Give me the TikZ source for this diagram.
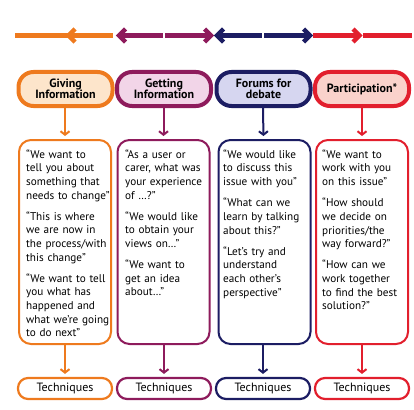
\documentclass[tikz,border=0pt]{standalone}
\usepackage{fontspec}
\setmainfont{PT Sans}
\usetikzlibrary{arrows.meta}
\definecolor{cOr}{HTML}{EE7A1E}
\definecolor{cMa}{HTML}{8E1B5C}
\definecolor{cNa}{HTML}{1C1D63}
\definecolor{cRe}{HTML}{E21F2D}
\definecolor{fOr}{HTML}{FDE5CB}
\definecolor{fMa}{HTML}{F2D5E8}
\definecolor{fNa}{HTML}{D6D6F0}
\definecolor{fRe}{HTML}{FAD2CB}
\begin{document}
\begin{tikzpicture}[x=1pt,y=-1pt,
  hdr/.style={draw, line width=4pt, rounded corners=15pt, minimum width=94pt, minimum height=34pt, inner sep=0pt, align=center, font=\bfseries\fontsize{12}{11.5}\selectfont},
  txtbox/.style={draw, line width=2pt, rounded corners=12pt, minimum width=92pt, minimum height=204pt, inner sep=0pt},
  tech/.style={draw, line width=2.2pt, rounded corners=10pt, minimum width=94pt, minimum height=21pt, inner sep=0pt, font=\fontsize{12}{13}\selectfont},
  quote/.style={anchor=north west, inner sep=0pt, text width=110pt, align=left, font=\fontsize{11.2}{13.6}\selectfont},
  arr/.style={line width=2pt, -{Straight Barb[length=3.5pt,width=9pt]}, shorten >=3pt},
  bar/.style={line width=4.4pt},
  chev/.style={line width=4.4pt, miter limit=10}
]
\useasboundingbox (0,0) rectangle (414,409);

% top bar
\def\by{35.5}
\draw[bar, cOr] (15,\by) -- (113,\by);
\draw[chev, cOr] (75,\by-6.5) -- (68.5,\by) -- (75,\by+6.5);
\draw[bar, cMa] (119,\by) -- (163,\by);
\draw[bar, cMa] (165,\by) -- (211,\by);
\draw[chev, cMa] (125.5,\by-6.5) -- (119,\by) -- (125.5,\by+6.5);
\draw[chev, cMa] (204.5,\by-6.5) -- (211,\by) -- (204.5,\by+6.5);
\draw[bar, cNa] (217,\by) -- (262,\by);
\draw[bar, cNa] (264,\by) -- (310,\by);
\draw[chev, cNa] (223.5,\by-6.5) -- (217,\by) -- (223.5,\by+6.5);
\draw[chev, cNa] (303.5,\by-6.5) -- (310,\by) -- (303.5,\by+6.5);
\draw[bar, cRe] (313,\by) -- (360,\by);
\draw[bar, cRe] (363,\by) -- (412,\by);
\draw[chev, cRe] (353,\by-6.5) -- (359.5,\by) -- (353,\by+6.5);

% headers
\node[hdr, draw=cOr, fill=fOr] (h1) at (65.5,89) {Giving\\Information};
\node[hdr, draw=cMa, fill=fMa] (h2) at (164,89) {Getting\\Information};
\node[hdr, draw=cNa, fill=fNa] (h3) at (263.5,89) {Forums for\\debate};
\node[hdr, draw=cRe, fill=fRe] (h4) at (362,89) {Participation*};

% text boxes
\node[txtbox, draw=cOr] (b1) at (65,242) {};
\node[txtbox, draw=cMa] (b2) at (163.5,242) {};
\node[txtbox, draw=cNa] (b3) at (264.5,242) {};
\node[txtbox, draw=cRe] (b4) at (362,242) {};

\node[quote] (q1) at (26,148.5) {\strut“We want to\\tell you about\\something that\\needs to change”\\[7.6pt]“This is where\\we are now in\\the process/with\\this change”\\[7.6pt]“We want to tell\\you what has\\happened and\\what we’re going\\to do next”};
\node[quote] (q2) at (125,148.5) {\strut“As a user or\\carer, what was\\your experience\\of …?”\\[7.6pt]“We would like\\to obtain your\\views on…”\\[7.6pt]“We want to\\get an idea\\about…”};
\node[quote] (q3) at (223,148.5) {\strut“We would like\\to discuss this\\issue with you”\\[7.8pt]“What can we\\learn by talking\\about this?”\\[7.6pt]“Let’s try and\\understand\\each other’s\\perspective”};
\node[quote] (q4) at (322,148.5) {\strut“We want to\\work with you\\on this issue”\\[7.8pt]“How should\\we decide on\\priorities/the\\way forward?”\\[7.6pt]“How can we\\work together\\to find the best\\solution?”};

% techniques
\node[tech, draw=cOr] (t1) at (65,388.5) {Techniques};
\node[tech, draw=cMa] (t2) at (164,388.5) {Techniques};
\node[tech, draw=cNa] (t3) at (263,388.5) {Techniques};
\node[tech, draw=cRe] (t4) at (362,388.5) {Techniques};

% arrows
\draw[arr, cOr] (h1.south -| b1.north) -- (b1.north);
\draw[arr, cMa] (h2.south -| b2.north) -- (b2.north);
\draw[arr, cNa] (h3.south -| t3.north) -- (h3.south |- b3.north);
\draw[arr, cRe] (h4.south) -- (b4.north);
\draw[arr, cOr] (b1.south) -- (t1.north);
\draw[arr, cMa] (b2.south -| t2.north) -- (t2.north);
\draw[arr, cNa] (b3.south -| t3.north) -- (t3.north);
\draw[arr, cRe] (b4.south) -- (t4.north);
\end{tikzpicture}
\end{document}
